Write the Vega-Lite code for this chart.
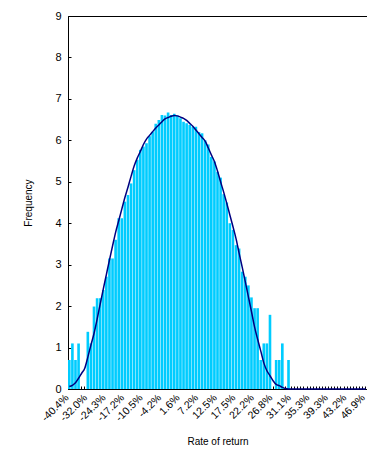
{
  "$schema": "https://vega.github.io/schema/vega-lite/v6.json",
  "width": 299,
  "height": 373,
  "autosize": {"type": "none"},
  "padding": {"left": 68, "top": 16, "right": 0, "bottom": 65},
  "background": "white",
  "config": {
    "view": {"stroke": "black", "strokeWidth": 1},
    "font": "Liberation Sans",
    "axis": {
      "domainColor": "black",
      "tickColor": "black",
      "labelColor": "black",
      "titleColor": "black",
      "titleFontWeight": "normal",
      "grid": false,
      "labelFont": "Liberation Sans",
      "titleFont": "Liberation Sans"
    }
  },
  "data": {
    "values": [
      {"bin": 0, "freq": 0.7, "curve": 0.06},
      {"bin": 1, "freq": 1.1, "curve": 0.09},
      {"bin": 2, "freq": 0.7, "curve": 0.15},
      {"bin": 3, "freq": 1.1, "curve": 0.26},
      {"bin": 4, "freq": 0, "curve": 0.38},
      {"bin": 5, "freq": 0, "curve": 0.5},
      {"bin": 6, "freq": 1.38, "curve": 0.77},
      {"bin": 7, "freq": 1.1, "curve": 1.06},
      {"bin": 8, "freq": 1.99, "curve": 1.34},
      {"bin": 9, "freq": 2.19, "curve": 1.68},
      {"bin": 10, "freq": 2.19, "curve": 2.05},
      {"bin": 11, "freq": 2.39, "curve": 2.41},
      {"bin": 12, "freq": 2.71, "curve": 2.76},
      {"bin": 13, "freq": 3.15, "curve": 3.11},
      {"bin": 14, "freq": 3.15, "curve": 3.45},
      {"bin": 15, "freq": 3.6, "curve": 3.78},
      {"bin": 16, "freq": 4.12, "curve": 4.06},
      {"bin": 17, "freq": 4.12, "curve": 4.34},
      {"bin": 18, "freq": 4.52, "curve": 4.62},
      {"bin": 19, "freq": 4.68, "curve": 4.87},
      {"bin": 20, "freq": 4.96, "curve": 5.13},
      {"bin": 21, "freq": 5.28, "curve": 5.38},
      {"bin": 22, "freq": 5.53, "curve": 5.57},
      {"bin": 23, "freq": 5.77, "curve": 5.73},
      {"bin": 24, "freq": 5.85, "curve": 5.9},
      {"bin": 25, "freq": 5.93, "curve": 6.03},
      {"bin": 26, "freq": 6.1, "curve": 6.12},
      {"bin": 27, "freq": 6.21, "curve": 6.21},
      {"bin": 28, "freq": 6.4, "curve": 6.3},
      {"bin": 29, "freq": 6.49, "curve": 6.37},
      {"bin": 30, "freq": 6.61, "curve": 6.45},
      {"bin": 31, "freq": 6.6, "curve": 6.52},
      {"bin": 32, "freq": 6.67, "curve": 6.55},
      {"bin": 33, "freq": 6.61, "curve": 6.58},
      {"bin": 34, "freq": 6.64, "curve": 6.6},
      {"bin": 35, "freq": 6.6, "curve": 6.59},
      {"bin": 36, "freq": 6.53, "curve": 6.56},
      {"bin": 37, "freq": 6.45, "curve": 6.53},
      {"bin": 38, "freq": 6.41, "curve": 6.48},
      {"bin": 39, "freq": 6.37, "curve": 6.41},
      {"bin": 40, "freq": 6.33, "curve": 6.34},
      {"bin": 41, "freq": 6.33, "curve": 6.25},
      {"bin": 42, "freq": 6.2, "curve": 6.16},
      {"bin": 43, "freq": 6.17, "curve": 6.07},
      {"bin": 44, "freq": 6.0, "curve": 5.98},
      {"bin": 45, "freq": 5.9, "curve": 5.82},
      {"bin": 46, "freq": 5.6, "curve": 5.65},
      {"bin": 47, "freq": 5.49, "curve": 5.49},
      {"bin": 48, "freq": 5.24, "curve": 5.26},
      {"bin": 49, "freq": 5.1, "curve": 5.0},
      {"bin": 50, "freq": 4.7, "curve": 4.75},
      {"bin": 51, "freq": 4.5, "curve": 4.48},
      {"bin": 52, "freq": 4.0, "curve": 4.2},
      {"bin": 53, "freq": 3.84, "curve": 3.92},
      {"bin": 54, "freq": 3.47, "curve": 3.63},
      {"bin": 55, "freq": 3.39, "curve": 3.28},
      {"bin": 56, "freq": 2.83, "curve": 2.94},
      {"bin": 57, "freq": 2.71, "curve": 2.59},
      {"bin": 58, "freq": 2.5, "curve": 2.23},
      {"bin": 59, "freq": 2.21, "curve": 1.87},
      {"bin": 60, "freq": 1.95, "curve": 1.5},
      {"bin": 61, "freq": 1.95, "curve": 1.2},
      {"bin": 62, "freq": 0.7, "curve": 0.92},
      {"bin": 63, "freq": 1.1, "curve": 0.63},
      {"bin": 64, "freq": 1.1, "curve": 0.44},
      {"bin": 65, "freq": 1.79, "curve": 0.32},
      {"bin": 66, "freq": 0, "curve": 0.2},
      {"bin": 67, "freq": 0.7, "curve": 0.11},
      {"bin": 68, "freq": 0.7, "curve": 0.08},
      {"bin": 69, "freq": 1.1, "curve": 0.04},
      {"bin": 70, "freq": 0, "curve": 0.01},
      {"bin": 71, "freq": 0.7, "curve": 0},
      {"bin": 72, "freq": 0, "curve": 0},
      {"bin": 73, "freq": 0, "curve": 0},
      {"bin": 74, "freq": 0, "curve": 0},
      {"bin": 75, "freq": 0, "curve": 0},
      {"bin": 76, "freq": 0, "curve": 0},
      {"bin": 77, "freq": 0, "curve": 0},
      {"bin": 78, "freq": 0, "curve": 0},
      {"bin": 79, "freq": 0, "curve": 0},
      {"bin": 80, "freq": 0, "curve": 0},
      {"bin": 81, "freq": 0, "curve": 0},
      {"bin": 82, "freq": 0, "curve": 0},
      {"bin": 83, "freq": 0, "curve": 0},
      {"bin": 84, "freq": 0, "curve": 0},
      {"bin": 85, "freq": 0, "curve": 0},
      {"bin": 86, "freq": 0, "curve": 0},
      {"bin": 87, "freq": 0, "curve": 0},
      {"bin": 88, "freq": 0, "curve": 0},
      {"bin": 89, "freq": 0, "curve": 0},
      {"bin": 90, "freq": 0, "curve": 0},
      {"bin": 91, "freq": 0, "curve": 0},
      {"bin": 92, "freq": 0, "curve": 0},
      {"bin": 93, "freq": 0, "curve": 0},
      {"bin": 94, "freq": 0, "curve": 0},
      {"bin": 95, "freq": 0, "curve": 0},
      {"bin": 96, "freq": 0, "curve": 0}
    ]
  },
  "encoding": {
    "x": {
      "field": "bin",
      "type": "ordinal",
      "scale": {"paddingInner": 0.15, "paddingOuter": 0},
      "axis": {
        "title": "Rate of return",
        "titleFontSize": 10,
        "labelAngle": -45,
        "labelFontSize": 10.5,
        "labelOverlap": false,
        "labelAlign": "right",
        "labelBaseline": "alphabetic",
        "labelExpr": "datum.value % 6 == 0 ? ['-40.4%','-32.0%','-24.3%','-17.2%','-10.5%','-4.2%','1.6%','7.2%','12.5%','17.5%','22.2%','26.8%','31.1%','35.3%','39.3%','43.2%','46.9%'][datum.value / 6] : ''",
        "tickSize": -3,
        "labelPadding": 12,
        "titlePadding": 13
      }
    }
  },
  "layer": [
    {
      "mark": {"type": "bar", "color": "#00CCFF"},
      "encoding": {
        "y": {
          "field": "freq",
          "type": "quantitative",
          "scale": {"domain": [0, 9], "nice": false},
          "axis": {
            "title": "Frequency",
            "titleFontSize": 10,
            "values": [0, 1, 2, 3, 4, 5, 6, 7, 8, 9],
            "labelFontSize": 11,
            "tickSize": -3,
            "labelPadding": 10,
            "titlePadding": 21
          }
        }
      }
    },
    {
      "mark": {"type": "line", "color": "#000080", "strokeWidth": 1.5, "interpolate": "monotone"},
      "encoding": {
        "y": {"field": "curve", "type": "quantitative", "axis": {"title": "Frequency"}}
      }
    }
  ]
}
